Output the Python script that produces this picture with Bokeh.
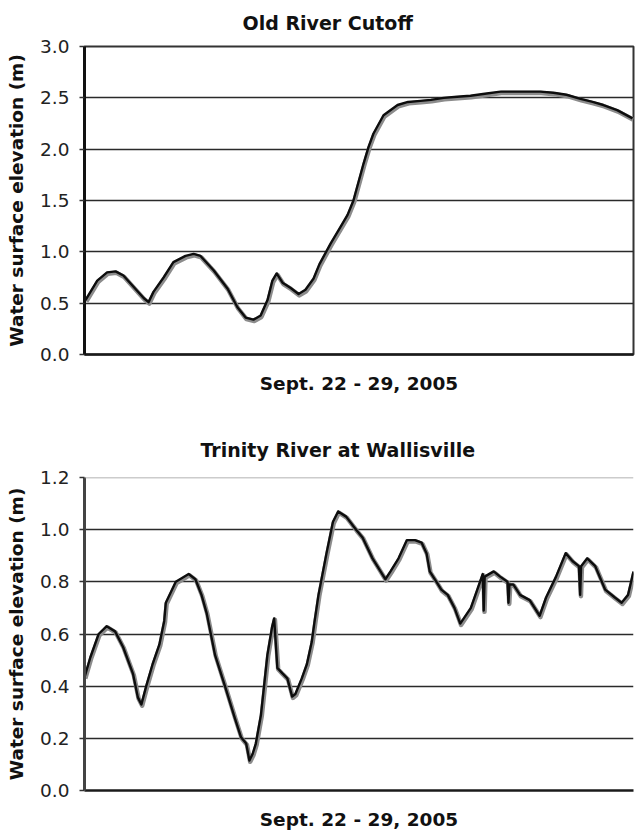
from bokeh.plotting import figure
from bokeh.models import Range1d, FixedTicker, NumeralTickFormatter, ColumnDataSource, Span
from bokeh.layouts import column
from bokeh.transform import dodge
from bokeh.embed import file_html
from bokeh.resources import INLINE

TOP_TITLE = "Old River Cutoff"
BOTTOM_TITLE = "Trinity River at Wallisville"
X_LABEL = "Sept. 22 - 29, 2005"
Y_LABEL = "Water surface elevation (m)"

# hours since start of Sept. 22, 2005
top_hours = [0.3, 3.9, 6.9, 9.5, 11.9, 15.0, 18.1, 19.6, 21.1, 24.2, 27.2, 30.9, 33.4,
             35.5, 39.5, 43.8, 46.8, 49.3, 51.7, 53.9, 56.0, 57.5, 58.8, 60.6, 63.0,
             65.5, 67.6, 70.1, 71.9, 75.3, 78.3, 80.5, 82.3, 85.4, 86.9, 88.4, 91.5,
             95.8, 99.0, 102.8, 106.0, 109.9, 114.0, 118.1, 122.5, 127.3, 131.5,
             135.6, 139.5, 143.5, 147.5, 151.8, 155.5, 158.8, 163.0, 167.7]
top_level = [0.53, 0.72, 0.80, 0.81, 0.77, 0.66, 0.55, 0.51, 0.61, 0.75, 0.90, 0.96, 0.98,
             0.96, 0.82, 0.64, 0.46, 0.36, 0.34, 0.38, 0.53, 0.72, 0.79, 0.70, 0.65,
             0.59, 0.63, 0.74, 0.88, 1.08, 1.24, 1.36, 1.50, 1.86, 2.02, 2.15, 2.33,
             2.43, 2.46, 2.47, 2.48, 2.50, 2.51, 2.52, 2.54, 2.56, 2.56,
             2.56, 2.56, 2.55, 2.53, 2.49, 2.46, 2.43, 2.38, 2.30]
top_yticks = [0.0, 0.5, 1.0, 1.5, 2.0, 2.5, 3.0]

bot_hours = [0.0, 1.8, 4.4, 6.9, 9.5, 12.0, 15.1, 16.6, 17.7, 19.2, 21.2, 23.3, 24.8,
             25.3, 28.4, 32.4, 34.5, 36.4, 38.0, 40.6, 43.7, 46.7, 48.7, 50.3, 51.3,
             52.3, 53.3, 54.9, 56.9, 58.4, 59.0, 60.0, 61.5, 63.1, 64.6, 65.6, 67.6,
             69.2, 70.7, 71.6, 72.8, 75.3, 77.3, 78.9, 81.4, 84.5, 86.5, 89.6, 93.6,
             95.2, 97.7, 100.3, 102.8, 104.9, 106.4, 107.4, 109.5, 111.0, 113.0, 115.1,
             116.9, 120.2, 122.2, 123.9, 124.2, 124.5, 127.3, 129.3, 131.6, 131.9,
             132.2, 133.4, 135.5, 138.5, 141.6, 143.6, 146.7, 149.7, 151.8, 153.8,
             154.2, 154.5, 156.4, 158.9, 162.0, 165.0, 167.1, 169.1, 170.8]
bot_level = [0.434, 0.51, 0.60, 0.63, 0.61, 0.55, 0.447, 0.357, 0.33, 0.40, 0.485, 0.56, 0.65,
             0.72, 0.80, 0.83, 0.81, 0.75, 0.68, 0.52, 0.40, 0.28, 0.204, 0.18, 0.115,
             0.14, 0.18, 0.29, 0.52, 0.63, 0.66, 0.47, 0.45, 0.43, 0.36, 0.37, 0.43,
             0.485, 0.57, 0.65, 0.75, 0.91, 1.03, 1.07, 1.05, 1.00, 0.97, 0.89, 0.81,
             0.84, 0.89, 0.96, 0.96, 0.95, 0.91, 0.84, 0.80, 0.77, 0.75, 0.70,
             0.64, 0.70, 0.77, 0.83, 0.69, 0.82, 0.84, 0.82, 0.80, 0.72,
             0.79, 0.79, 0.75, 0.73, 0.67, 0.74, 0.82, 0.91, 0.88, 0.86,
             0.75, 0.86, 0.89, 0.86, 0.77, 0.74, 0.72, 0.75, 0.84]
bot_yticks = [0.0, 0.2, 0.4, 0.6, 0.8, 1.0, 1.2]

FONT = "DejaVu Sans"


def make_chart(title, hours, level, xmax, yticks, height, b_top, b_bottom, b_right,
               title_offset, title_standoff, xlabel_standoff, boxed, axis_color,
               shadow):
    p = figure(width=642, height=height, output_backend="svg", toolbar_location=None,
               x_range=Range1d(0, xmax), y_range=Range1d(yticks[0], yticks[-1]),
               min_border_left=84, min_border_right=b_right, min_border_top=b_top,
               min_border_bottom=b_bottom, background_fill_color="white",
               border_fill_color="white")
    p.title.text = title
    p.title.text_font = FONT
    p.title.text_font_size = "19px"
    p.title.text_font_style = "bold"
    p.title.text_color = "#111111"
    p.title.align = "left"
    p.title.vertical_align = "top"
    p.title.offset = title_offset
    p.title.standoff = title_standoff

    if boxed:
        p.outline_line_color = "#333333"
        p.outline_line_width = 2
    else:
        p.outline_line_color = None

    # y axis
    p.yaxis.ticker = FixedTicker(ticks=yticks)
    p.yaxis.formatter = NumeralTickFormatter(format="0.0")
    p.yaxis.axis_label = Y_LABEL
    p.yaxis.axis_label_text_font = FONT
    p.yaxis.axis_label_text_font_size = "18.5px"
    p.yaxis.axis_label_text_font_style = "bold"
    p.yaxis.axis_label_text_color = "#111111"
    p.yaxis.axis_label_standoff = 10
    p.yaxis.major_label_text_font = FONT
    p.yaxis.major_label_text_font_size = "18.5px"
    p.yaxis.major_label_text_color = "#222222"
    p.yaxis.major_label_standoff = 10
    p.yaxis.major_tick_out = 5
    p.yaxis.major_tick_in = 0
    p.yaxis.major_tick_line_color = "#333333"
    p.yaxis.major_tick_line_width = 1.5
    p.yaxis.minor_tick_line_color = None
    p.yaxis.axis_line_color = axis_color
    p.yaxis.axis_line_width = 3

    # x axis
    p.xaxis.ticker = FixedTicker(ticks=[])
    p.xaxis.axis_label = X_LABEL
    p.xaxis.axis_label_text_font = FONT
    p.xaxis.axis_label_text_font_size = "18.5px"
    p.xaxis.axis_label_text_font_style = "bold"
    p.xaxis.axis_label_text_color = "#111111"
    p.xaxis.axis_label_standoff = xlabel_standoff
    p.xaxis.major_label_standoff = 0
    p.xaxis.major_tick_out = 0
    p.xaxis.major_tick_in = 0
    p.xaxis.minor_tick_line_color = None
    p.xaxis.axis_line_color = "#1a1a1a"
    p.xaxis.axis_line_width = 2.5

    p.xgrid.grid_line_color = None
    if boxed:
        p.ygrid.ticker = FixedTicker(ticks=yticks[1:])
    else:
        p.ygrid.ticker = FixedTicker(ticks=yticks[1:-1])
        p.add_layout(Span(location=yticks[-1], dimension="width",
                          line_color="#999999", line_width=1.5))
    p.ygrid.grid_line_color = "#2a2a2a"
    p.ygrid.grid_line_width = 1.5

    src = ColumnDataSource(dict(x=hours, y=level))
    p.line(x=dodge("x", 0.25), y=dodge("y", -shadow), source=src,
           line_color="#8c8c8c", line_width=4.5, line_join="round")
    p.line(x="x", y="y", source=src, line_color="#0d0d0d", line_width=2.4,
           line_join="round")
    return p


p1 = make_chart(TOP_TITLE, top_hours, top_level, 168.0, top_yticks, 420, 46, 66, 9,
                158, 22, 18, True, "#111111", 0.014)
p2 = make_chart(BOTTOM_TITLE, bot_hours, bot_level, 170.8, bot_yticks, 412, 57, 42, 0,
                116, 30, 18, False, "#444444", 0.005)

layout = column(p1, p2, spacing=0)
open("out.html", "w").write(file_html(layout, INLINE))
